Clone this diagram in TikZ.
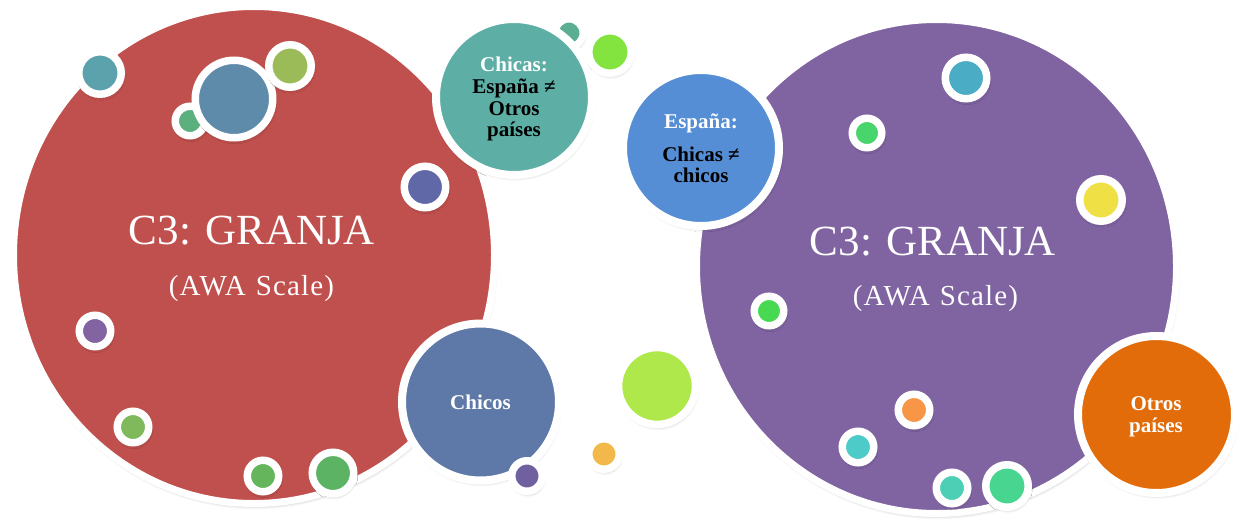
\documentclass[tikz,border=0pt]{standalone}
\usepackage{fontspec}
\setmainfont{Liberation Serif}
\newfontfamily\spacedserif[LetterSpace=4]{Liberation Serif}
\usetikzlibrary{shapes.geometric,shadows.blur}

% fill colours
\definecolor{granjaRed}{HTML}{C0504D}
\definecolor{granjaPurple}{HTML}{8064A2}
\definecolor{chicasTeal}{HTML}{5DAFA5}
\definecolor{espanaBlue}{HTML}{558ED5}
\definecolor{chicosBlue}{HTML}{5E78A8}
\definecolor{otrosOrange}{HTML}{E36C0A}
\definecolor{cLime}{HTML}{AEE84A}
\definecolor{cAmber}{HTML}{F3B84A}
\definecolor{cViolet}{HTML}{7060A0}
\definecolor{cSteel}{HTML}{5F8BAB}
\definecolor{cSea}{HTML}{5BA2AD}
\definecolor{cOlive}{HTML}{9BBB59}
\definecolor{cJade}{HTML}{5BB07E}
\definecolor{cIndigo}{HTML}{6068A8}
\definecolor{cLilac}{HTML}{8364A2}
\definecolor{cMoss}{HTML}{7FB95C}
\definecolor{cLeaf}{HTML}{65B55D}
\definecolor{cFern}{HTML}{5DB364}
\definecolor{cMint}{HTML}{5AAE92}
\definecolor{cNeon}{HTML}{84E43F}
\definecolor{cSky}{HTML}{4BACC6}
\definecolor{cEmerald}{HTML}{48D56C}
\definecolor{cLemon}{HTML}{EFE046}
\definecolor{cGrass}{HTML}{48D952}
\definecolor{cTangerine}{HTML}{F79646}
\definecolor{cCyan}{HTML}{4CCBC8}
\definecolor{cAqua}{HTML}{4CCFB5}
\definecolor{cSpring}{HTML}{48D590}

\begin{document}
\begin{tikzpicture}[x=1pt,y=-1pt,
  softshadow/.style={blur shadow={shadow xshift=1pt,shadow yshift=-3pt,
      shadow blur radius=3pt,shadow opacity=30}},
  % bubble: fill colour, inner radius, white ring width
  bub/.style n args={3}{circle,inner sep=0pt,draw=white,fill=#1,
      line width=#3pt,minimum size={2*#2pt+#3pt},softshadow},
  bigbub/.style={ellipse,inner sep=0pt,draw=white,line width=7pt,
      fill=#1,softshadow},
  title/.style={text=white,inner sep=0pt,anchor=base,
      font=\fontsize{43}{50}\selectfont},
  subtitle/.style={text=white,inner sep=0pt,anchor=base,
      font=\fontsize{29}{34}\selectfont\spacedserif},
  lbl/.style={text=#1,inner sep=0pt,anchor=base,
      font=\fontsize{21}{22}\selectfont\bfseries},
]
\useasboundingbox (0,0) rectangle (1242,522);

% ---- left cluster ----
\node[bigbub=granjaRed,minimum width=481pt,minimum height=497pt] (redbig) at (254,255) {};
\node[bub={cSea}{17.5}{7.5}]    (l1) at (100,73) {};
\node[bub={cJade}{11}{7.5}]     (l2) at (190,121) {};
\node[bub={cSteel}{35}{7.5}]    (l3) at (234,99) {};
\node[bub={cOlive}{17.5}{7.5}]  (l4) at (290,66) {};
\node[bub={cIndigo}{17}{7.5}]   (l5) at (425,187) {};
\node[bub={cLilac}{12}{7.5}]    (l6) at (95,331) {};
\node[bub={cMoss}{12}{7.5}]     (l7) at (133,427) {};
\node[bub={cLeaf}{12}{7.5}]     (l8) at (263,476) {};
\node[bub={cFern}{17}{7.5}]     (l9) at (333,473) {};

\node[title]    (redT1) at (252,244) {C3: GRANJA};
\node[subtitle] (redT2) at (251.5,295) {(AWA\hspace{10pt}Scale)};

% ---- middle bubbles ----
\node[bub={cMint}{10.5}{7}]      (m1) at (569,33) {};
\node[bub={chicasTeal}{74}{8}]   (chicas) at (514,97) {};
\node[bub={cNeon}{17.5}{7.5}]    (m2) at (610,52) {};
\node[lbl=white] (chA) at (514,71)  {Chicas:};
\node[lbl=black] (chB) at (514,93)  {España ≠};
\node[lbl=black] (chC) at (514,115) {Otros};
\node[lbl=black] (chD) at (514,136) {países};

\node[bub={chicosBlue}{74.5}{8}] (chicos) at (480.5,402) {};
\node[bub={cViolet}{11.5}{7.5}]  (m3) at (527,476) {};
\node[lbl=white] (coA) at (480.5,409) {Chicos};

\node[bub={cLime}{34.7}{7.5}]    (m4) at (657,386) {};
\node[bub={cAmber}{11.5}{7.5}]   (m5) at (604,454) {};

% ---- right cluster ----
\node[bigbub=granjaPurple,minimum width=480pt,minimum height=494pt] (purplebig) at (936.5,266.5) {};
\node[bub={espanaBlue}{74}{8}]   (espana) at (701,148) {};
\node[lbl=white] (esA) at (701,128) {España:};
\node[lbl=black] (esB) at (701,161) {Chicas ≠};
\node[lbl=black] (esC) at (701,182) {chicos};

\node[bub={cSky}{17}{7.5}]        (r1) at (966,78) {};
\node[bub={cEmerald}{11}{7.5}]    (r2) at (867,133) {};
\node[bub={cLemon}{17.5}{7.5}]    (r3) at (1101,200) {};
\node[bub={cGrass}{11}{7.5}]      (r4) at (769,311) {};
\node[bub={cTangerine}{12}{7.5}]  (r5) at (914,410) {};
\node[bub={cCyan}{12}{7.5}]       (r6) at (858,447) {};
\node[bub={cAqua}{12}{7.5}]       (r7) at (952,488) {};
\node[bub={cSpring}{17.5}{7.5}]   (r8) at (1007,486) {};

\node[title]    (purT1) at (933,255) {C3: GRANJA};
\node[subtitle] (purT2) at (935.5,305) {(AWA\hspace{10pt}Scale)};

\node[bub={otrosOrange}{74.5}{8}] (otros) at (1156.5,414.5) {};
\node[lbl=white] (otA) at (1156,410) {Otros};
\node[lbl=white] (otB) at (1156,432) {países};
\end{tikzpicture}
\end{document}
